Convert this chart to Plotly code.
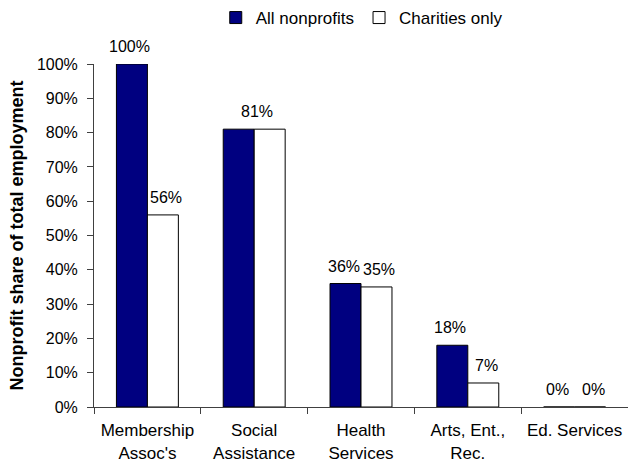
import plotly.graph_objects as go

# Nonprofit share of total employment by industry
categories = ["Membership<br>Assoc's", "Social<br>Assistance", "Health<br>Services",
              "Arts, Ent.,<br>Rec.", "Ed. Services"]
all_nonprofits = [1.00, 0.81, 0.36, 0.18, 0.00]
charities_only = [0.56, 0.81, 0.35, 0.07, 0.00]
y_ticks = [i / 10 for i in range(11)]

NAVY = "#000080"
FONT = "Liberation Sans, Arial, sans-serif"

fig = go.Figure()
fig.add_trace(go.Bar(
    name="All nonprofits", x=categories, y=all_nonprofits,
    marker=dict(color=NAVY, line=dict(color="black", width=1)),
))
fig.add_trace(go.Bar(
    name="Charities only", x=categories, y=charities_only,
    marker=dict(color="white", line=dict(color="black", width=1)),
))

# Plot geometry used to centre value labels over each bar
margin_l, margin_r, margin_t, margin_b = 94, 0, 63, 57
width, height = 628, 464
bargap = 0.42
cat_px = (width - margin_l - margin_r) / len(categories)
bar_px = cat_px * (1 - bargap) / 2

annotations = []
for cat, a, c in zip(categories, all_nonprofits, charities_only):
    if a == c and a > 0:
        # identical values share a single label over the pair
        annotations.append(dict(x=cat, y=a, text=f"{round(a * 100)}%", xshift=3))
    else:
        annotations.append(dict(x=cat, y=a, text=f"{round(a * 100)}%", xshift=-bar_px / 2 - 2))
        annotations.append(dict(x=cat, y=c, text=f"{round(c * 100)}%", xshift=bar_px / 2 + 3))
for ann in annotations:
    ann.update(xref="x", yref="y", yanchor="bottom", showarrow=False, yshift=7,
               font=dict(family=FONT, size=16, color="black"))

fig.update_layout(
    width=width, height=height,
    margin=dict(l=margin_l, r=margin_r, t=margin_t, b=margin_b, pad=0),
    paper_bgcolor="white", plot_bgcolor="white",
    barmode="group", bargap=bargap, bargroupgap=0,
    font=dict(family=FONT, size=16, color="black"),
    showlegend=True,
    legend=dict(orientation="h", x=0.228, xanchor="left", y=1.135, yanchor="middle",
                itemwidth=30, font=dict(size=17), bgcolor="rgba(0,0,0,0)",
                traceorder="normal"),
    annotations=annotations,
)
fig.update_xaxes(
    showline=True, linecolor="#404040", linewidth=1,
    ticks="outside", ticklen=6, tickcolor="#404040", tickson="boundaries",
    showgrid=False, tickfont=dict(size=17), ticklabelstandoff=8,
)
fig.update_yaxes(
    range=[0, 1], tickvals=y_ticks, tickformat=".0%",
    showline=True, linecolor="#404040", linewidth=1,
    ticks="outside", ticklen=6, tickcolor="#404040", ticklabelstandoff=6,
    showgrid=False, zeroline=False, tickfont=dict(size=16),
    title=dict(text="<b>Nonprofit share of total employment</b>",
               font=dict(size=18), standoff=8),
)

fig.write_html("out.html")
